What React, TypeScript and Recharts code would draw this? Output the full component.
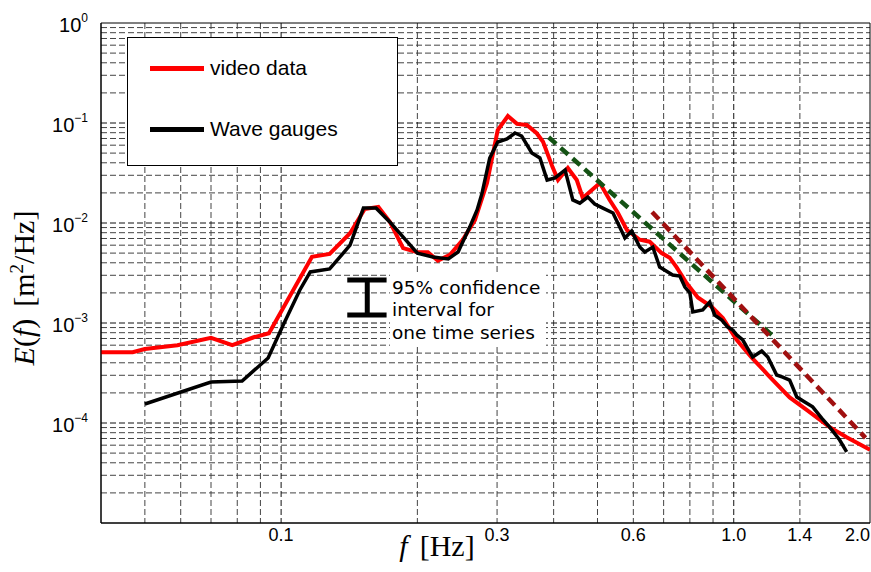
import React from "react";
import {
  LineChart,
  Line,
  XAxis,
  YAxis,
  CartesianGrid,
  ReferenceLine,
  ReferenceArea,
  Legend,
} from "recharts";

// spectrum from the video data (Hz, m^2/Hz)
const videoFreq = [
  0.04, 0.047, 0.05, 0.059, 0.07, 0.078, 0.087, 0.094, 0.117, 0.128, 0.142,
  0.153, 0.164, 0.174, 0.186, 0.2, 0.211, 0.222, 0.236, 0.252, 0.268, 0.285,
  0.301, 0.317, 0.332, 0.349, 0.367, 0.379, 0.398, 0.409, 0.43, 0.45, 0.464,
  0.486, 0.506, 0.532, 0.555, 0.581, 0.62, 0.652, 0.693, 0.722, 0.748, 0.787,
  0.833, 0.894, 0.946, 1.015, 1.096, 1.201, 1.329, 1.449, 1.629, 1.776, 2.0,
];
const videoEnergy = [
  5.1e-4, 5.1e-4, 5.5e-4, 6.0e-4, 7.1e-4, 6.0e-4, 7.2e-4, 7.9e-4, 4.6e-3,
  4.9e-3, 7.9e-3, 0.0138, 0.0145, 0.0102, 5.6e-3, 5.1e-3, 5.1e-3, 4.2e-3,
  4.8e-3, 6.8e-3, 0.0107, 0.0251, 0.085, 0.1175, 0.098, 0.0955, 0.079, 0.065,
  0.036, 0.027, 0.0355, 0.0269, 0.0178, 0.0214, 0.0251, 0.017, 0.0126, 8.5e-3,
  6.8e-3, 6.5e-3, 5.0e-3, 4.5e-3, 3.6e-3, 2.5e-3, 1.8e-3, 1.45e-3, 1.12e-3,
  6.8e-4, 4.5e-4, 2.9e-4, 1.8e-4, 1.35e-4, 9.1e-5, 7.2e-5, 5.4e-5,
];

// spectrum from the wave gauges
const gaugeFreq = [
  0.05, 0.07, 0.082, 0.0936, 0.101, 0.11, 0.116, 0.128, 0.142, 0.152, 0.162,
  0.174, 0.2, 0.2165, 0.234, 0.246, 0.261, 0.271, 0.278, 0.289, 0.301, 0.3155,
  0.3286, 0.34, 0.358, 0.373, 0.387, 0.403, 0.424, 0.441, 0.457, 0.476, 0.493,
  0.514, 0.541, 0.575, 0.595, 0.62, 0.636, 0.6625, 0.686, 0.715, 0.733, 0.76,
  0.78, 0.8, 0.812, 0.854, 0.885, 0.908, 0.941, 0.97, 0.995, 1.015, 1.047,
  1.101, 1.153, 1.189, 1.244, 1.283, 1.329, 1.378, 1.435, 1.494, 1.564, 1.629,
  1.714, 1.776,
];
const gaugeEnergy = [
  1.55e-4, 2.57e-4, 2.63e-4, 4.47e-4, 9.5e-4, 2.14e-3, 3.24e-3, 3.47e-3,
  6.0e-3, 0.0141, 0.0141, 0.0102, 5.0e-3, 4.57e-3, 4.37e-3, 5.13e-3, 9.1e-3,
  0.0135, 0.02, 0.0447, 0.0646, 0.0692, 0.0794, 0.0741, 0.0501, 0.0447, 0.0269,
  0.0282, 0.0339, 0.017, 0.0158, 0.0182, 0.0155, 0.0141, 0.0126, 7.08e-3,
  8.3e-3, 5.75e-3, 5.13e-3, 5.75e-3, 3.63e-3, 3.24e-3, 3.02e-3, 2.95e-3,
  2.29e-3, 2.0e-3, 1.29e-3, 1.35e-3, 1.62e-3, 1.2e-3, 1.07e-3, 9.1e-4, 8.5e-4,
  7.6e-4, 6.76e-4, 4.57e-4, 5.25e-4, 4.57e-4, 3.02e-4, 2.88e-4, 2.69e-4,
  1.82e-4, 1.62e-4, 1.45e-4, 1.12e-4, 9.1e-5, 6.76e-5, 5.13e-5,
];

// dashed tail slopes (end points only)
const greenSlopeFreq = [0.39, 1.23];
const greenSlopeEnergy = [0.072, 7.2e-4];
const redSlopeFreq = [0.66, 1.955];
const redSlopeEnergy = [0.0129, 7.1e-5];

// 95% confidence bar
const ciFreq = 0.155;
const ciCapFreq = [0.14, 0.171];
const ciEnergy = [1.2e-3, 2.69e-3];

const xTicks = [0.1, 0.3, 0.6, 1.0, 1.4, 2.0];
const yTicks = [1e-4, 1e-3, 1e-2, 1e-1, 1];

const xGridMajor = [0.1, 1];
const xGridMinor = [0.05, 0.06, 0.07, 0.08, 0.09, 0.2, 0.3, 0.4, 0.5, 0.6, 0.7, 0.8, 0.9, 1.4];
const decades = [1e-5, 1e-4, 1e-3, 1e-2, 1e-1];
const yGridMajor = [1e-4, 1e-3, 1e-2, 1e-1];
const yGridMinor = decades.flatMap((d) => [2, 3, 4, 5, 6, 7, 8, 9].map((m) => m * d));

const zip = (fs: number[], es: number[]) => fs.map((f, i) => ({ f, e: es[i] }));
const videoData = zip(videoFreq, videoEnergy);
const gaugeData = zip(gaugeFreq, gaugeEnergy);
const greenSlope = zip(greenSlopeFreq, greenSlopeEnergy);
const redSlope = zip(redSlopeFreq, redSlopeEnergy);

const sans = "'Liberation Sans', Arial, sans-serif";
const serif = "'Liberation Serif', 'Times New Roman', serif";

function XTick({ x, y, payload }: any) {
  const v = payload.value;
  return (
    <text
      x={x}
      y={y + 14}
      textAnchor={v >= 2 ? "end" : "middle"}
      fontFamily={sans}
      fontSize={18}
      fill="#000"
    >
      {v.toFixed(1)}
    </text>
  );
}

function YTick({ x, y, payload }: any) {
  const e = Math.round(Math.log10(payload.value));
  return (
    <text x={x} y={y + 9} textAnchor="end" fontFamily={sans} fontSize={20} fill="#000">
      <tspan>10</tspan>
      <tspan dy={-10} fontSize={12}>
        {e === 0 ? "0" : `\u2212${-e}`}
      </tspan>
    </text>
  );
}

function LegendBox() {
  const row = (color: string, label: string, top: number) => (
    <div style={{ position: "absolute", left: 22, top, display: "flex", alignItems: "center" }}>
      <div style={{ width: 54, height: 5, background: color }} />
      <span style={{ marginLeft: 6, fontFamily: sans, fontSize: 21, color: "#000" }}>{label}</span>
    </div>
  );
  return (
    <div
      style={{
        position: "relative",
        width: 271,
        height: 129,
        boxSizing: "border-box",
        border: "1px solid #000",
        background: "#fff",
      }}
    >
      {row("#ff0000", "video data", 18)}
      {row("#000000", "Wave gauges", 79)}
    </div>
  );
}

export default function App() {
  return (
    <div style={{ position: "absolute", left: 0, top: 0, width: 871, height: 572, background: "#fff" }}>
      <LineChart width={871} height={572} margin={{ top: 23, right: 1, left: 0, bottom: 0 }}>
        <CartesianGrid
          verticalValues={xGridMinor}
          horizontalValues={yGridMinor}
          stroke="#444"
          strokeDasharray="6 3"
        />
        <CartesianGrid
          verticalValues={xGridMajor}
          horizontalValues={yGridMajor}
          stroke="#111"
          strokeDasharray="6 3"
        />
        <XAxis
          dataKey="f"
          type="number"
          scale="log"
          domain={[0.04, 2]}
          allowDataOverflow
          ticks={xTicks}
          interval={0}
          tick={<XTick />}
          tickSize={0}
          tickMargin={4}
          tickLine={false}
          height={49}
          axisLine={{ stroke: "#000" }}
        />
        <YAxis
          type="number"
          scale="log"
          domain={[1e-5, 1]}
          allowDataOverflow
          ticks={yTicks}
          interval={0}
          tick={<YTick />}
          tickSize={0}
          tickMargin={13}
          tickLine={false}
          width={101}
          axisLine={{ stroke: "#000" }}
        />
        <ReferenceArea x1={0.04} x2={2} y1={1e-5} y2={1} fill="none" stroke="#000" strokeWidth={1} />
        <Line
          data={videoData}
          dataKey="e"
          stroke="#ff0000"
          strokeWidth={4}
          dot={false}
          isAnimationActive={false}
          name="video data"
        />
        <Line
          data={gaugeData}
          dataKey="e"
          stroke="#000000"
          strokeWidth={3.5}
          dot={false}
          isAnimationActive={false}
          name="Wave gauges"
        />
        <Line
          data={greenSlope}
          dataKey="e"
          stroke="#145214"
          strokeWidth={4.5}
          strokeDasharray="10 6"
          dot={false}
          isAnimationActive={false}
          legendType="none"
        />
        <Line
          data={redSlope}
          dataKey="e"
          stroke="#a01010"
          strokeWidth={4.5}
          strokeDasharray="10 6"
          dot={false}
          isAnimationActive={false}
          legendType="none"
        />
        <ReferenceLine
          segment={[{ x: ciFreq, y: ciEnergy[0] }, { x: ciFreq, y: ciEnergy[1] }]}
          stroke="#000"
          strokeWidth={5}
        />
        <ReferenceLine
          segment={[{ x: ciCapFreq[0], y: ciEnergy[0] }, { x: ciCapFreq[1], y: ciEnergy[0] }]}
          stroke="#000"
          strokeWidth={5}
        />
        <ReferenceLine
          segment={[{ x: ciCapFreq[0], y: ciEnergy[1] }, { x: ciCapFreq[1], y: ciEnergy[1] }]}
          stroke="#000"
          strokeWidth={5}
        />
        <Legend
          verticalAlign="middle"
          align="center"
          layout="horizontal"
          wrapperStyle={{ left: 127, top: 37, width: 271, height: 129 }}
          content={() => <LegendBox />}
        />
      </LineChart>
      <svg
        width={871}
        height={572}
        style={{ position: "absolute", left: 0, top: 0, pointerEvents: "none" }}
      >
        <rect x={390} y={272} width={156} height={74} fill="#fff" />
        <g fontFamily="'DejaVu Sans', sans-serif" fontSize={18.5} fill="#000">
          <text x={392} y={294}>95% confidence</text>
          <text x={392} y={316}>interval for</text>
          <text x={392} y={339}>one time series</text>
        </g>
        <text x={437} y={556} textAnchor="middle" fontFamily={serif} fontSize={30} fill="#000">
          <tspan fontStyle="italic">f</tspan>
          <tspan dx={12}>[Hz]</tspan>
        </text>
        <text
          transform="translate(34,288) rotate(-90)"
          textAnchor="middle"
          fontFamily={serif}
          fontSize={30}
          fill="#000"
        >
          <tspan fontStyle="italic">E</tspan>
          <tspan>(</tspan>
          <tspan fontStyle="italic">f</tspan>
          <tspan>)</tspan>
          <tspan dx={12}>[m</tspan>
          <tspan dy={-11} fontSize={19}>2</tspan>
          <tspan dy={11}>/Hz]</tspan>
        </text>
      </svg>
    </div>
  );
}
